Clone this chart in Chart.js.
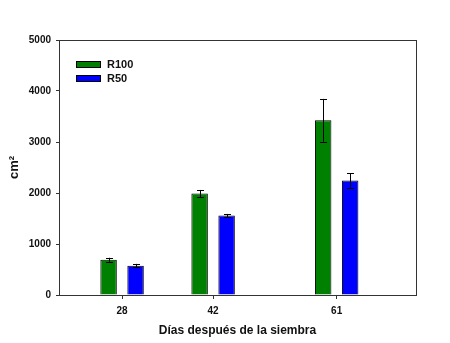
<!DOCTYPE html>
<html lang="es">
<head>
<meta charset="UTF-8">
<title>Área foliar</title>
<script src="https://cdn.jsdelivr.net/npm/chart.js"></script>
<style>
    body { margin: 0; background: #fff; }
    #wrap { width: 450px; height: 343px; }
</style>
</head>
<body>
<div id="wrap"><canvas id="chart" width="450" height="343"></canvas></div>
<script>
    // datos
    const days = [28, 42, 61];
    const r100 = [690, 1990, 3425];
    const r50 = [575, 1560, 2245];
    const errR100 = [40, 70, 420];
    const errR50 = [35, 30, 140];
    const yTicks = [0, 1000, 2000, 3000, 4000, 5000];

    const tickFont = { family: 'Arial, "Liberation Sans", sans-serif', size: 10, weight: 'bold' };

    // barras de error dibujadas con las escalas del grafico
    const errorBars = {
        id: 'errorBars',
        afterDatasetsDraw(chart) {
            const ctx = chart.ctx;
            const y = chart.scales.y;
            const errs = [errR100, errR50];
            ctx.save();
            ctx.strokeStyle = '#000';
            ctx.lineWidth = 1;
            chart.data.datasets.forEach((ds, i) => {
                chart.getDatasetMeta(i).data.forEach((bar, j) => {
                    const v = ds.data[j].y;
                    const top = y.getPixelForValue(v + errs[i][j]);
                    const bot = y.getPixelForValue(v - errs[i][j]);
                    const x = Math.round(bar.x) + 0.5;
                    ctx.beginPath();
                    ctx.moveTo(x, top); ctx.lineTo(x, bot);
                    ctx.moveTo(x - 3.5, Math.round(top) + 0.5); ctx.lineTo(x + 3.5, Math.round(top) + 0.5);
                    ctx.moveTo(x - 3.5, Math.round(bot) + 0.5); ctx.lineTo(x + 3.5, Math.round(bot) + 0.5);
                    ctx.stroke();
                });
            });
            ctx.restore();
        }
    };

    // marco y leyenda dentro del area del grafico
    const frameLegend = {
        id: 'frameLegend',
        afterDraw(chart) {
            const ctx = chart.ctx;
            const a = chart.chartArea;
            ctx.save();
            ctx.strokeStyle = '#333';
            ctx.lineWidth = 1;
            ctx.strokeRect(Math.round(a.left) + 0.5, Math.round(a.top) + 0.5,
                Math.round(a.right - a.left), Math.round(a.bottom - a.top));
            ctx.font = 'bold 11px Arial, "Liberation Sans", sans-serif';
            ctx.textBaseline = 'middle';
            chart.data.datasets.forEach((ds, i) => {
                const yy = a.top + 24 + i * 14;
                ctx.fillStyle = ds.backgroundColor;
                ctx.fillRect(a.left + 17, yy - 3, 25, 7);
                ctx.strokeStyle = '#000';
                ctx.strokeRect(a.left + 17.5, yy - 2.5, 24, 6);
                ctx.fillStyle = '#111';
                ctx.fillText(ds.label, a.left + 48, yy + 1);
            });
            ctx.restore();
        }
    };

    new Chart(document.getElementById('chart'), {
        type: 'bar',
        data: {
            datasets: [
                {
                    label: 'R100',
                    data: days.map((d, i) => ({ x: d, y: r100[i] })),
                    backgroundColor: '#008000',
                    borderColor: '#000',
                    borderWidth: 1
                },
                {
                    label: 'R50',
                    data: days.map((d, i) => ({ x: d, y: r50[i] })),
                    backgroundColor: '#0000ff',
                    borderColor: '#000',
                    borderWidth: 1
                }
            ]
        },
        options: {
            responsive: false,
            animation: false,
            categoryPercentage: 0.593,
            barPercentage: 0.61,
            layout: { padding: { top: 40, right: 34, left: 0, bottom: 0 } },
            plugins: {
                legend: { display: false },
                tooltip: { enabled: false }
            },
            scales: {
                x: {
                    type: 'linear',
                    offset: false,
                    min: 18.3,
                    max: 73.2,
                    afterBuildTicks: s => { s.ticks = days.map(v => ({ value: v })); },
                    afterFit: s => { s.height = 48; },
                    grid: { drawOnChartArea: false, tickLength: 4, color: '#333', offset: false },
                    border: { color: '#333' },
                    ticks: { font: tickFont, color: '#111', padding: 6, autoSkip: false, maxRotation: 0 },
                    title: {
                        display: true,
                        text: 'Días después de la siembra',
                        color: '#111',
                        font: { family: 'Arial, "Liberation Sans", sans-serif', size: 12, weight: 'bold' },
                        padding: { top: 0, bottom: 5 }
                    }
                },
                y: {
                    min: 0,
                    max: 5000,
                    afterBuildTicks: s => { s.ticks = yTicks.map(v => ({ value: v })); },
                    afterFit: s => { s.width = 59; },
                    grid: { drawOnChartArea: false, tickLength: 3, color: '#333' },
                    border: { color: '#333' },
                    ticks: { font: tickFont, color: '#111', padding: 5, callback: v => String(v) },
                    title: {
                        display: true,
                        text: 'cm²',
                        color: '#111',
                        font: { family: 'Arial, "Liberation Sans", sans-serif', size: 13, weight: 'bold' },
                        padding: { top: 7, bottom: 0 }
                    }
                }
            }
        },
        plugins: [errorBars, frameLegend]
    });
</script>
</body>
</html>
